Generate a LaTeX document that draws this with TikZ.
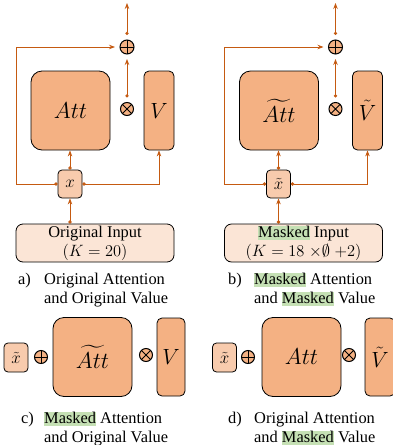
\RequirePackage{fix-cm}
\documentclass[tikz,border=0pt]{standalone}
\usepackage{amssymb}
\usepackage{fontspec}
\setmainfont{Liberation Serif}
\usetikzlibrary{arrows.meta}
\definecolor{boxorange}{HTML}{F4B183}
\definecolor{xfill}{HTML}{F8CBAD}
\definecolor{infill}{HTML}{FBE5D6}
\definecolor{arrowc}{HTML}{C55A11}
\definecolor{hlgreen}{HTML}{C5E0B4}
\newcommand\hl[1]{{\setlength{\fboxsep}{0pt}\colorbox{hlgreen}{\rule[-3pt]{0pt}{14.5pt}#1}}}
\tikzset{
  arr/.style={draw=arrowc, line width=0.9pt, {Circle[length=3.2pt]}-{Stealth[length=6pt,width=4.5pt]}},
  bigbox/.style={draw, line width=0.8pt, fill=boxorange, rounded corners=11pt, minimum width=79pt, minimum height=79pt, inner sep=0pt, font=\fontsize{23}{26}\selectfont},
  vbox/.style={draw, line width=0.8pt, fill=boxorange, rounded corners=5pt, minimum width=30pt, minimum height=79pt, inner sep=0pt, font=\fontsize{22}{24}\selectfont},
  xbox/.style={draw, line width=0.8pt, fill=xfill, rounded corners=4pt, minimum width=24pt, minimum height=28pt, inner sep=0pt, font=\fontsize{17}{20}\selectfont},
  inbox/.style={draw, line width=0.8pt, fill=infill, rounded corners=7pt, minimum width=158pt, minimum height=38pt, inner sep=0pt, align=center, font=\fontsize{16.4}{19}\selectfont},
  opplus/.style={circle, draw, line width=1pt, fill=boxorange, minimum size=14pt, inner sep=0pt,
    path picture={\draw[line width=1pt] (path picture bounding box.north) -- (path picture bounding box.south) (path picture bounding box.west) -- (path picture bounding box.east);}},
  optimes/.style={circle, draw, line width=1pt, fill=boxorange, minimum size=13pt, inner sep=0pt,
    path picture={\draw[line width=1pt] (path picture bounding box.north west) -- (path picture bounding box.south east) (path picture bounding box.south west) -- (path picture bounding box.north east);}},
  captxt/.style={anchor=base west, inner sep=0pt, font=\fontsize{16.4}{19}\selectfont},
}
% #1 prefix, #2 xshift, #3 att, #4 V, #5 x, #6 input text
\newcommand\attpanel[6]{%
\begin{scope}[xshift=#2]
  \node[bigbox] (#1att) at (70.5,110.5) {$#3$};
  \node[vbox] (#1v) at (159,110.5) {$#4$};
  \node[optimes, outer sep=5pt] (#1mul) at (127,109) {};
  \node[opplus, outer sep=5pt] (#1add) at (127,47) {};
  \node[xbox] (#1x) at (70,184) {$#5$};
  \node[inbox] (#1in) at (95,243) {#6};
  \coordinate (#1top) at (127,3);
  \coordinate (#1left) at (16,100);
  \draw[arr] (#1in.north -| #1x) -- (#1x.south);
  \draw[arr] (#1x.north) -- (#1x.north |- #1att.south);
  \draw[arr] (#1x.east) -| (#1v.south);
  \draw[arr] (#1x.west) -- (#1x.west -| #1left) |- (#1add.west);
  \draw[arr] (#1mul.north) -- (#1add.south);
  \draw[arr] (#1add.north) -- (#1top);
\end{scope}}
\begin{document}
\begin{tikzpicture}[x=1pt,y=-1pt]
\useasboundingbox (0,0) rectangle (393,445);
\attpanel{a}{0pt}{Att}{V}{x}{Original Input\\$(K = 20)$}
\attpanel{b}{208.5pt}{\widetilde{Att}}{\tilde{V}}{\tilde{x}}{\hl{Masked} Input\\$(K = 18\;{\times}{\emptyset}\;{+2})$}
% captions a, b
\node[captxt] (ca0) at (18,284) {a)};
\node[captxt] (ca1) at (44,284) {Original Attention};
\node[captxt] (ca2) at (44,303) {and Original Value};
\node[captxt] (cb0) at (228,284) {b)};
\node[captxt] (cb1) at (254,284) {\hl{Masked} Attention};
\node[captxt] (cb2) at (254,303) {and \hl{Masked} Value};
% panel c
\node[xbox, minimum height=29pt] (cx) at (16,357.5) {$\tilde{x}$};
\node[opplus, minimum size=13pt] (cadd) at (41,357) {};
\node[bigbox] (catt) at (92.5,357) {$\widetilde{Att}$};
\node[optimes] (cmul) at (146,355) {};
\node[vbox, minimum width=28pt, minimum height=78pt] (cv) at (171,357) {$V$};
% panel d
\node[xbox, minimum height=29pt] (dx) at (224.5,357.5) {$\tilde{x}$};
\node[opplus, minimum size=13pt] (dadd) at (248,357) {};
\node[bigbox] (datt) at (301.5,357) {$Att$};
\node[optimes] (dmul) at (349,355) {};
\node[vbox, minimum height=78pt] (dv) at (380,357) {$\tilde{V}$};
% captions c, d
\node[captxt] (cc0) at (21,423) {c)};
\node[captxt] (cc1) at (44,423) {\hl{Masked} Attention};
\node[captxt] (cc2) at (44,442) {and Original Value};
\node[captxt] (cd0) at (228,423) {d)};
\node[captxt] (cd1) at (254,423) {Original Attention};
\node[captxt] (cd2) at (254,442) {and \hl{Masked} Value};
\end{tikzpicture}
\end{document}
